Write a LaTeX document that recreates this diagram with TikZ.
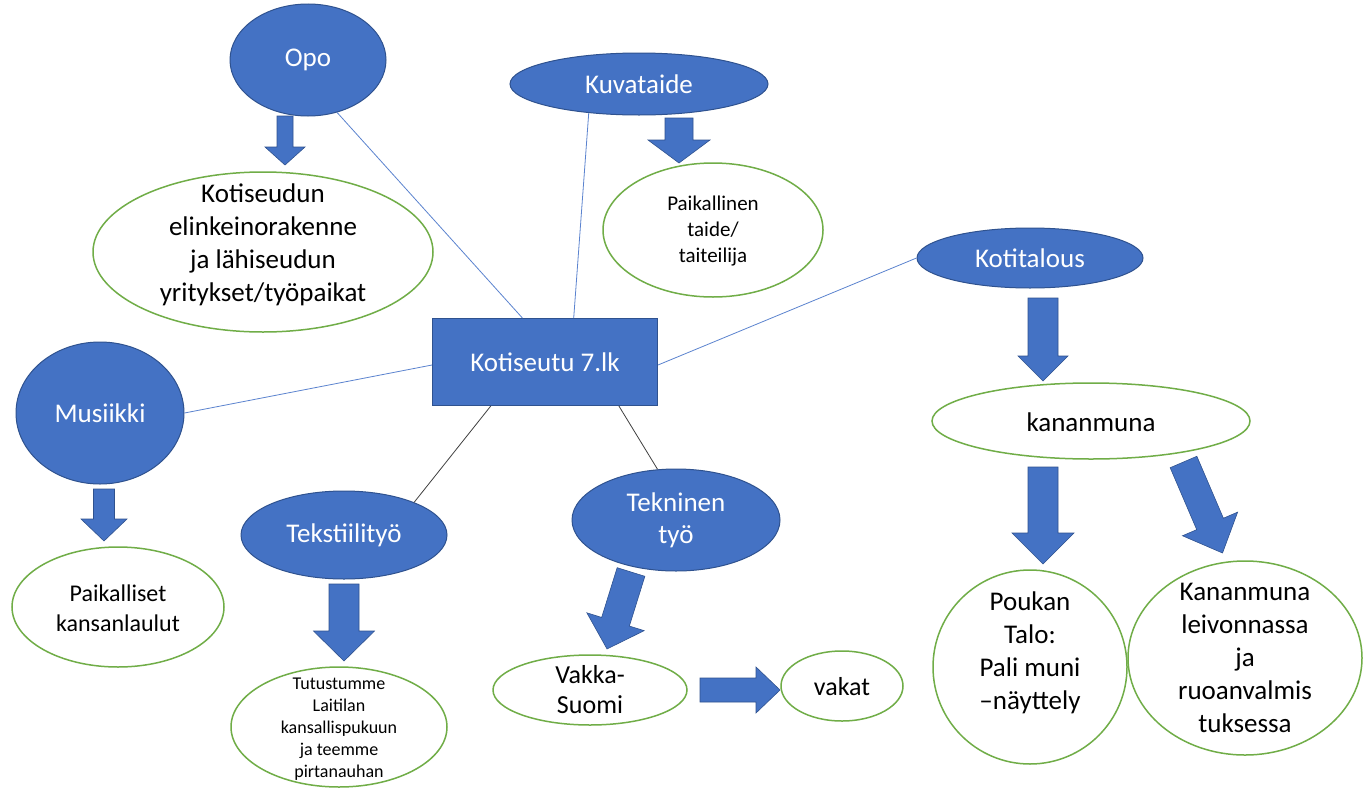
\documentclass[tikz,border=0pt]{standalone}
\usepackage{fontspec}
\setmainfont{Carlito}
\usetikzlibrary{shapes.geometric,calc}
\definecolor{obl}{HTML}{4472C4}
\definecolor{obd}{HTML}{2F528F}
\definecolor{ogr}{HTML}{70AD47}
\definecolor{lnb}{HTML}{5B83CF}
\definecolor{lnd}{HTML}{404040}
\tikzset{
  topic/.style={ellipse, fill=obl, draw=obd, line width=1pt, text=white, inner sep=0pt, align=center, font=\fontsize{27}{32}\selectfont},
  leaf/.style={ellipse, draw=ogr, line width=1.5pt, fill=white, inner sep=0pt},
  lbl/.style={align=center, inner sep=0pt, text=black},
  hub/.style={rectangle, fill=obl, draw=obd, line width=1pt, text=white, font=\fontsize{27}{32}\selectfont},
  thinb/.style={draw=lnb, line width=0.8pt},
  thind/.style={draw=lnd, line width=0.8pt},
  blk/.style={fill=obl, draw=obd, line width=0.6pt},
}
\newcommand\blockarr[6]{\path[blk, shift={#1}, rotate=#2] (0,-#4) -- ({#3-#6},-#4) -- ({#3-#6},-#5) -- (#3,0) -- ({#3-#6},#5) -- ({#3-#6},#4) -- (0,#4) -- cycle;}
\begin{document}
\begin{tikzpicture}[x=1pt,y=-1pt]
\useasboundingbox (0,0) rectangle (1367,787);
\fill[white] (0,0) rectangle (1367,787);

% hub and topics
\node[hub, minimum width=225pt, minimum height=87pt] (hub) at (545,362) {Kotiseutu 7.lk};
\node[topic, minimum width=156pt, minimum height=112pt] (opo) at (308,60) {Opo};
\node[topic, minimum width=258pt, minimum height=62pt] (kuva) at (639,84) {Kuvataide};
\node[topic, minimum width=226pt, minimum height=60pt] (koti) at (1030,258) {Kotitalous};
\node[topic, minimum width=168pt, minimum height=142pt] (musi) at (100,413) {Musiikki};
\node[topic, minimum width=206pt, minimum height=88pt] (teks) at (344,535) {Tekstiilityö};
\node[topic, minimum width=208pt, minimum height=102pt] (tekn) at (676,520) {Tekninen\\työ};

% connectors
\draw[thinb] (opo.-61) -- ($(hub.north west)!0.4!(hub.north east)$);
\draw[thinb] (kuva.-150) -- ($(hub.north west)!0.627!(hub.north east)$);
\draw[thinb] ($(hub.east)+(0,3)$) -- (koti.west);
\draw[thinb] (musi.east) -- ($(hub.west)+(0,3)$);
\draw[thind] ($(hub.south west)!0.26!(hub.south east)$) -- (teks.25);
\draw[thind] ($(hub.south west)!0.827!(hub.south east)$) -- (tekn.110);

% leaves
\node[leaf, minimum width=340pt, minimum height=160pt] (elin) at (263,252) {};
\node[lbl, font=\fontsize{27}{33}\selectfont] (elint) at (263,245) {Kotiseudun\\elinkeinorakenne\\ja lähiseudun\\yritykset/työpaikat};
\node[leaf, minimum width=220pt, minimum height=134pt] (taide) at (713,230) {};
\node[lbl, font=\fontsize{21}{26}\selectfont] (taidet) at (713,231) {Paikallinen\\taide/\\taiteilija};
\node[leaf, minimum width=318pt, minimum height=76pt] (muna) at (1091,421) {};
\node[lbl, font=\fontsize{27}{33}\selectfont] (munat) at (1091,422) {kananmuna};
\node[leaf, minimum width=212pt, minimum height=120pt] (laulu) at (118,607) {};
\node[lbl, font=\fontsize{24}{30}\selectfont] (laulut) at (118,608) {Paikalliset\\kansanlaulut};
\node[leaf, minimum width=216pt, minimum height=120pt] (puku) at (339,727) {};
\node[lbl, font=\fontsize{18}{22}\selectfont] (pukut) at (339,729) {Tutustumme\\Laitilan\\kansallispukuun\\ja teemme\\pirtanauhan};
\node[leaf, minimum width=194pt, minimum height=70pt] (vakka) at (590,690) {};
\node[lbl, font=\fontsize{26}{30}\selectfont] (vakkat) at (590,690) {Vakka-\\Suomi};
\node[leaf, minimum width=122pt, minimum height=70pt] (vakat) at (842,686) {};
\node[lbl, font=\fontsize{26}{30}\selectfont] (vakatt) at (842,687) {vakat};
\node[leaf, minimum width=194pt, minimum height=194pt] (pouk) at (1030,667) {};
\node[lbl, font=\fontsize{27}{33}\selectfont] (poukt) at (1030,653) {Poukan\\Talo:\\Pali muni\\–näyttely};
\node[leaf, minimum width=234pt, minimum height=194pt] (leiv) at (1245,658) {};
\node[lbl, font=\fontsize{27}{33}\selectfont] (leivt) at (1245,658) {Kananmuna\\leivonnassa\\ja\\ruoanvalmis\\tuksessa};

% block arrows: start, angle, length, shaft half width, head half width, head length
\blockarr{(285,116)}{-90}{49}{8}{20}{18}
\blockarr{(679,118)}{-90}{45}{14}{31}{23}
\blockarr{(1043,298)}{-90}{83}{15}{25}{25}
\blockarr{(1043,467)}{-90}{97}{15}{31}{31}
\blockarr{(1183.5,462)}{-66.8}{99}{14.5}{30}{31.6}
\blockarr{(104,489)}{-90}{52}{10.5}{23}{22}
\blockarr{(344,584)}{-90}{77}{15}{30.5}{30}
\blockarr{(631,572)}{-107.3}{80.6}{14.5}{30}{28.5}
\blockarr{(700,690)}{0}{80}{12}{23}{24}
\end{tikzpicture}
\end{document}
